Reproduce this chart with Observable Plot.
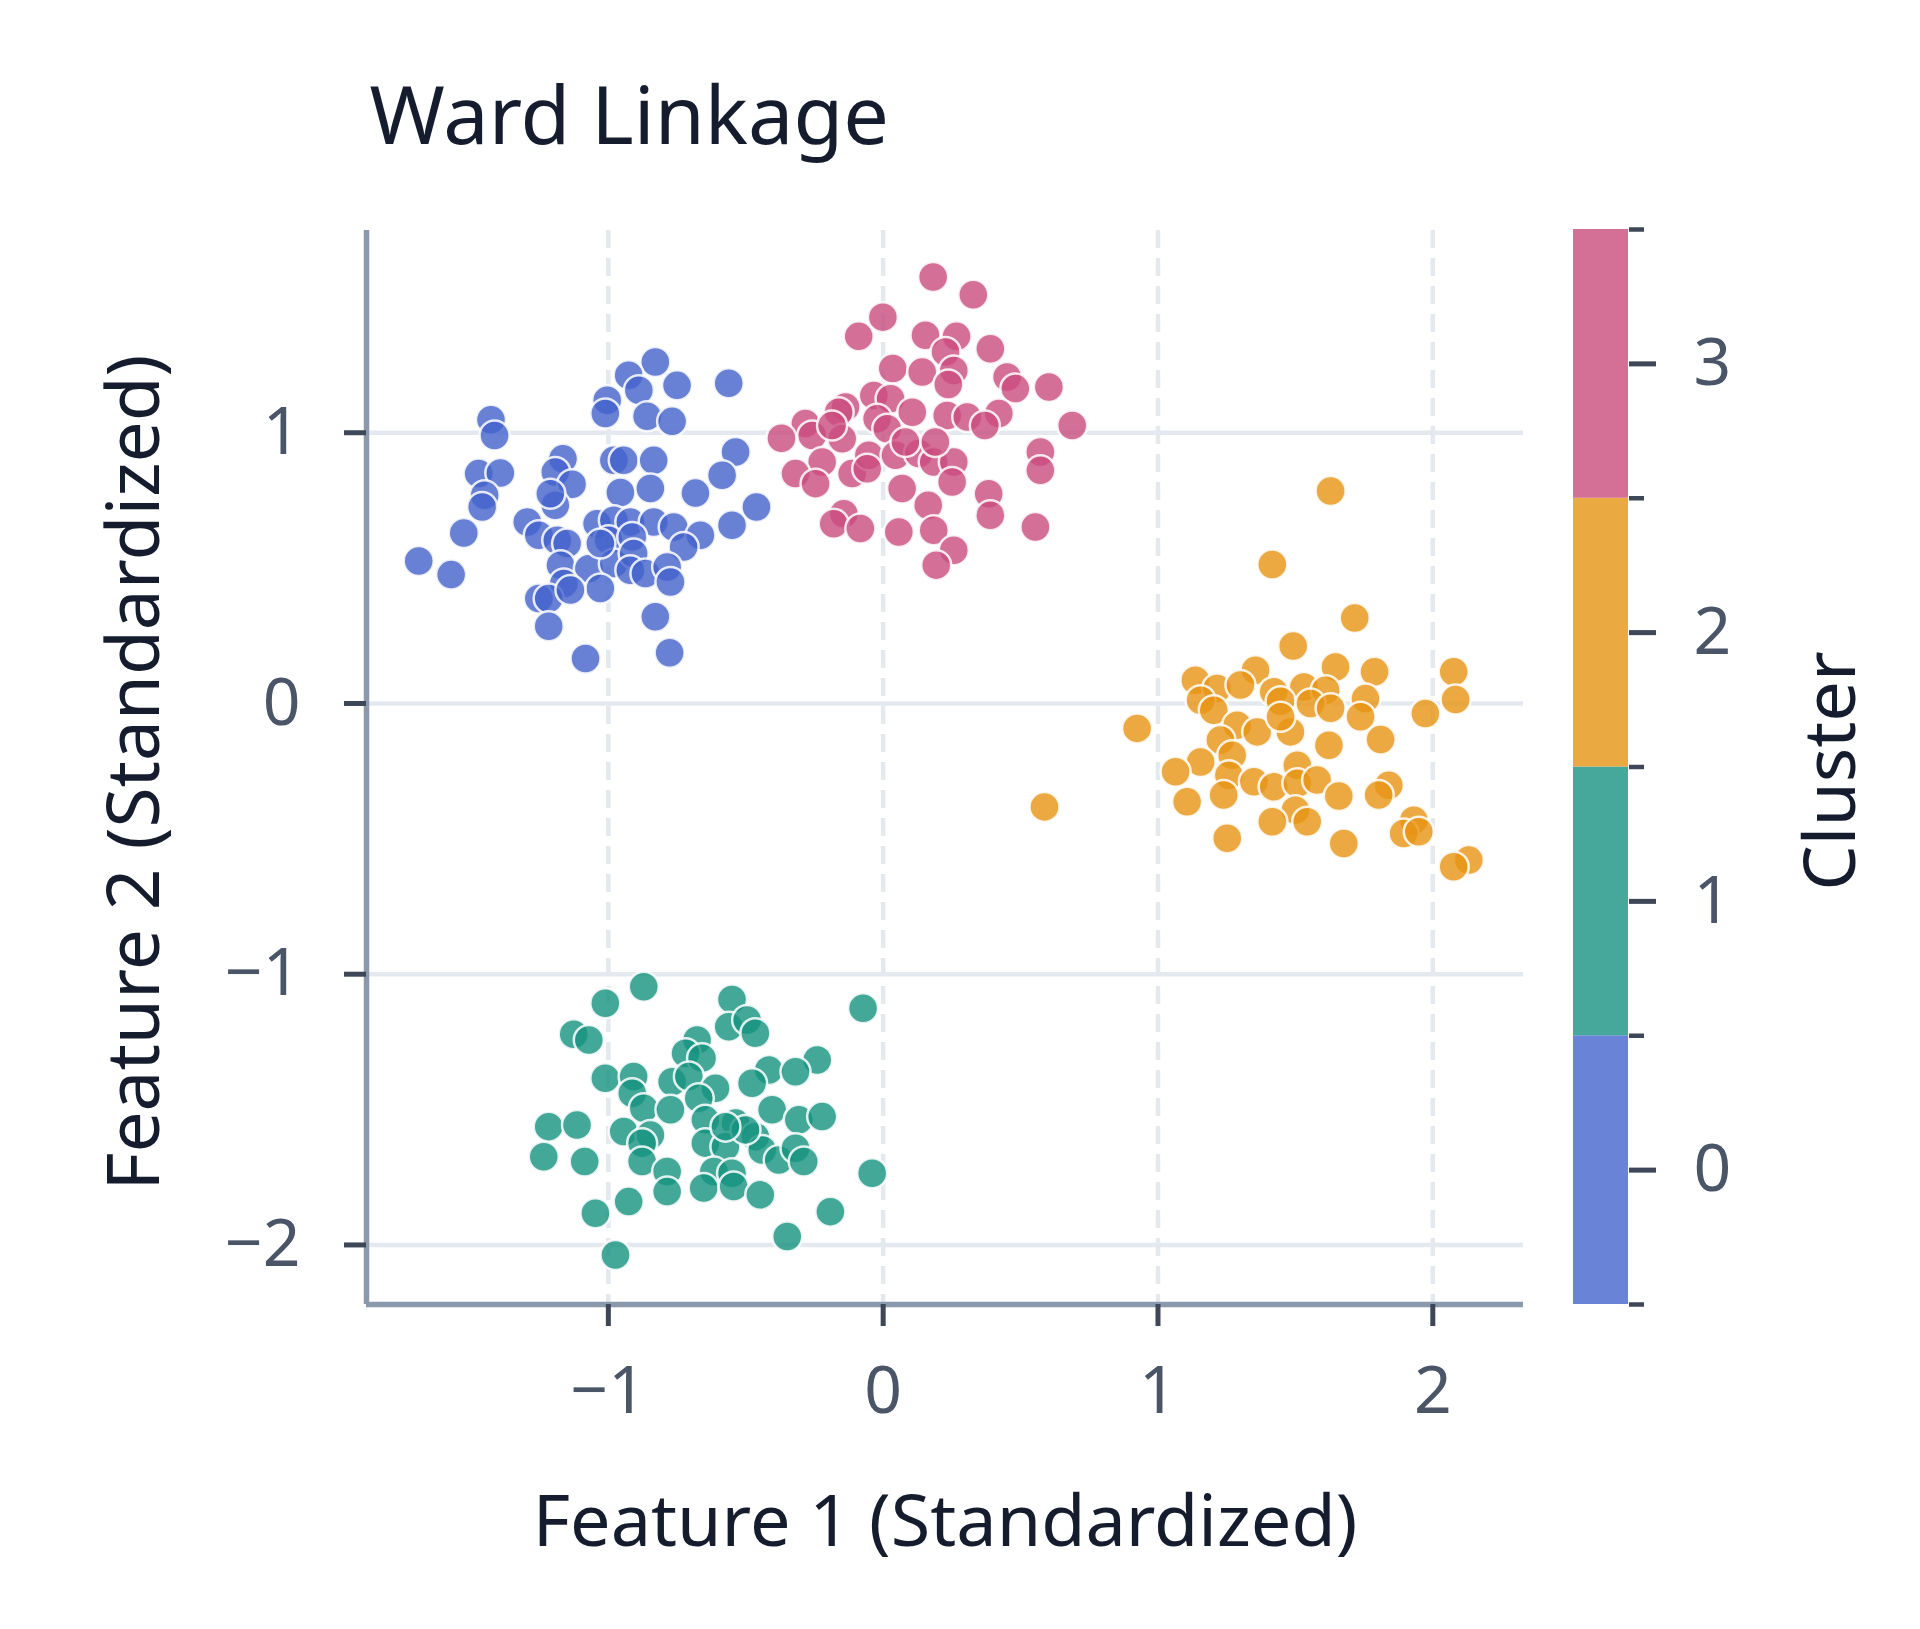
<!DOCTYPE html>
<html>
<head>
<meta charset="utf-8">
<script src="https://cdn.jsdelivr.net/npm/d3@7"></script>
<script src="https://cdn.jsdelivr.net/npm/@observablehq/plot@0.6"></script>
<style>
  html, body { margin: 0; padding: 0; background: #ffffff; }
  #chart { position: relative; width: 1920px; height: 1629px; overflow: hidden; }
  #chart > svg { position: absolute; }
</style>
</head>
<body>
<div id="chart"></div>
<script>
// ---------- data ----------
const clusterIds = [0, 1, 2, 3];
const clusterLabels = ["0", "1", "2", "3"];

const cluster0X = [-0.829,-0.926,-0.889,-0.750,-0.562,-1.004,-1.011,-0.859,-0.768,-1.427,-1.414,-0.537,-1.165,-0.980,-0.944,-0.835,-1.472,-1.393,-1.193,-1.132,-0.586,-0.683,-0.956,-0.847,-1.450,-1.459,-1.193,-1.211,-0.461,-1.526,-1.295,-1.041,-0.980,-0.920,-0.835,-0.762,-0.665,-0.550,-1.253,-1.186,-1.150,-0.999,-0.913,-0.726,-1.690,-1.572,-1.174,-1.071,-0.980,-0.908,-0.920,-0.865,-0.786,-0.774,-1.029,-1.162,-1.253,-1.217,-0.829,-1.217,-1.083,-0.777,-1.138,-1.029];
const cluster0Y = [1.261,1.212,1.157,1.175,1.183,1.120,1.071,1.061,1.042,1.048,0.990,0.929,0.904,0.898,0.898,0.898,0.849,0.851,0.855,0.810,0.843,0.777,0.779,0.794,0.769,0.726,0.732,0.775,0.726,0.630,0.670,0.664,0.677,0.670,0.670,0.652,0.621,0.658,0.621,0.603,0.591,0.603,0.615,0.578,0.526,0.476,0.511,0.498,0.517,0.554,0.492,0.480,0.504,0.449,0.425,0.443,0.388,0.388,0.320,0.285,0.166,0.187,0.419,0.591];

const cluster1X = [-0.871,-1.011,-0.550,-0.073,-1.126,-1.071,-0.562,-0.495,-0.465,-0.677,-0.719,-0.659,-0.240,-0.416,-0.319,-0.477,-1.011,-0.908,-0.913,-0.768,-0.707,-0.610,-0.871,-0.774,-0.671,-0.404,-0.307,-0.222,-1.217,-1.114,-0.944,-0.847,-0.877,-0.647,-0.537,-0.465,-0.647,-0.574,-0.440,-0.380,-0.319,-0.289,-1.235,-1.086,-0.877,-0.786,-0.786,-0.616,-0.550,-0.653,-0.544,-0.040,-0.447,-0.926,-1.047,-0.192,-0.349,-0.974,-0.501,-0.574];
const cluster1Y = [-1.046,-1.107,-1.093,-1.126,-1.222,-1.243,-1.194,-1.169,-1.218,-1.243,-1.292,-1.310,-1.317,-1.354,-1.360,-1.403,-1.384,-1.378,-1.440,-1.397,-1.378,-1.421,-1.495,-1.501,-1.458,-1.501,-1.538,-1.526,-1.563,-1.557,-1.581,-1.594,-1.624,-1.538,-1.550,-1.600,-1.624,-1.637,-1.649,-1.686,-1.643,-1.692,-1.674,-1.692,-1.692,-1.729,-1.803,-1.729,-1.735,-1.790,-1.784,-1.735,-1.815,-1.840,-1.883,-1.877,-1.969,-2.037,-1.575,-1.563];

const cluster2X = [1.628,1.416,1.716,1.492,1.355,1.646,1.788,2.076,1.136,1.215,1.300,1.421,1.531,1.610,1.755,2.083,1.973,0.924,1.155,1.203,1.446,1.555,1.628,1.737,1.288,1.361,1.482,1.227,1.622,1.810,1.270,1.155,1.064,1.258,1.349,1.421,1.507,1.507,1.579,1.658,1.840,1.803,1.106,1.239,0.587,1.500,1.543,1.416,1.252,1.676,1.931,1.894,1.949,2.131,2.076,1.446];
const cluster2Y = [0.785,0.513,0.316,0.212,0.123,0.135,0.117,0.117,0.086,0.055,0.068,0.043,0.061,0.049,0.018,0.015,-0.037,-0.092,0.012,-0.025,0.008,0.000,-0.018,-0.049,-0.080,-0.105,-0.105,-0.135,-0.154,-0.133,-0.191,-0.216,-0.252,-0.265,-0.289,-0.308,-0.228,-0.295,-0.283,-0.342,-0.302,-0.338,-0.363,-0.338,-0.382,-0.394,-0.437,-0.437,-0.498,-0.517,-0.431,-0.480,-0.474,-0.578,-0.603,-0.049];

const cluster3X = [0.182,0.328,-0.001,-0.089,0.154,0.267,0.390,0.227,0.035,0.142,0.257,0.237,0.451,0.481,0.603,-0.034,0.027,-0.137,-0.162,0.106,-0.283,-0.022,0.015,0.233,0.306,0.421,0.370,0.688,-0.370,-0.258,-0.149,-0.222,-0.319,-0.246,-0.113,-0.052,-0.058,0.045,0.130,0.184,0.257,0.251,0.069,0.572,0.572,0.384,0.390,-0.143,-0.180,-0.083,0.057,0.164,0.184,0.554,0.257,0.193,0.081,0.190,-0.186];
const cluster3Y = [1.575,1.510,1.427,1.356,1.360,1.356,1.310,1.298,1.237,1.224,1.230,1.178,1.206,1.163,1.169,1.138,1.126,1.095,1.076,1.076,1.034,1.052,1.015,1.064,1.058,1.071,1.027,1.027,0.980,0.990,0.978,0.892,0.849,0.812,0.849,0.917,0.867,0.917,0.923,0.892,0.892,0.818,0.794,0.929,0.861,0.775,0.695,0.701,0.664,0.646,0.633,0.732,0.640,0.652,0.566,0.511,0.966,0.966,1.027];

const xDomain = [-1.88, 2.33];
const yDomain = [-2.22, 1.747];
const xTicks = [-1, 0, 1, 2];
const yTicks = [-2, -1, 0, 1];
const clusterTicks = [0, 1, 2, 3];
const clusterEdges = [-0.5, 0.5, 1.5, 2.5, 3.5];

const titleText = "Ward Linkage";
const xTitle = "Feature 1 (Standardized)";
const yTitle = "Feature 2 (Standardized)";
const legendTitle = "Cluster";

// ---------- styles ----------
const markerColors = ["#4261ca", "#15927f", "#e79313", "#c94c7e"];
const barColors = ["#6984d6", "#45a89a", "#eba941", "#d47096"];
const FONT = "'Noto Sans', 'Open Sans', sans-serif";
const tickColor = "#3d4757";
const tickTextColor = "#4a5568";
const axisLineColor = "#8b99ad";
const gridColor = "#e4e8ef";
const titleColor = "#151c2e";
const fmtTick = d => (d < 0 ? "\u2212" : "") + Math.abs(d);

// ---------- build table ----------
const xs = [cluster0X, cluster1X, cluster2X, cluster3X];
const ys = [cluster0Y, cluster1Y, cluster2Y, cluster3Y];
const points = [];
clusterIds.forEach((c, i) => {
  xs[i].forEach((x, j) => points.push({x, y: ys[i][j], cluster: c}));
});

const W = 1920, H = 1629;
const mL = 366, mR = 397, mT = 230, mB = 325;

const main = Plot.plot({
  width: W,
  height: H,
  marginLeft: mL,
  marginRight: mR,
  marginTop: mT,
  marginBottom: mB,
  style: {fontFamily: FONT, background: "transparent", overflow: "visible"},
  x: {domain: xDomain, nice: false},
  y: {domain: yDomain, nice: false},
  color: {type: "ordinal", domain: clusterIds, range: markerColors},
  marks: [
    Plot.gridY(yTicks, {stroke: gridColor, strokeOpacity: 1, strokeWidth: 4.5}),
    Plot.gridX(xTicks, {stroke: gridColor, strokeOpacity: 1, strokeWidth: 4.5, strokeDasharray: "18,10"}),
    Plot.ruleX([xDomain[0]], {stroke: axisLineColor, strokeWidth: 5.5}),
    Plot.ruleY([yDomain[0]], {stroke: axisLineColor, strokeWidth: 5.5}),
    Plot.axisX(xTicks, {tickSize: 22, tickPadding: 40, stroke: tickColor, strokeWidth: 5, fill: tickTextColor, fontSize: 66, tickFormat: fmtTick, label: null}),
    Plot.axisY(yTicks, {tickSize: 22, tickPadding: 44, stroke: tickColor, strokeWidth: 5, fill: tickTextColor, fontSize: 66, tickFormat: fmtTick, label: null}),
    Plot.dot(points, {x: "x", y: "y", fill: "cluster", r: 15, fillOpacity: 0.8, stroke: "white", strokeWidth: 2.5, strokeOpacity: 0.85}),
    Plot.text([titleText], {frameAnchor: "top-left", textAnchor: "start", lineAnchor: "bottom", dx: 3, dy: -87, fontSize: 81, fill: titleColor}),
    Plot.text([xTitle], {frameAnchor: "bottom", textAnchor: "middle", lineAnchor: "bottom", dy: 241, fontSize: 72, fill: titleColor}),
    Plot.text([yTitle], {frameAnchor: "left", textAnchor: "middle", lineAnchor: "middle", rotate: -90, dx: -231, dy: 5, fontSize: 73, fill: titleColor})
  ]
});
main.style.left = "0px";
main.style.top = "0px";
document.getElementById("chart").appendChild(main);

// ---------- colorbar ----------
const cbLeft = 1573, cbTop = 229, cbBottom = 1304, cbWidth = 55;
const cbPad = 12;
const cbW = W - cbLeft;
const cbar = Plot.plot({
  width: cbW,
  height: (cbBottom - cbTop) + 2 * cbPad,
  marginLeft: 0,
  marginRight: cbW - cbWidth,
  marginTop: cbPad,
  marginBottom: cbPad,
  style: {fontFamily: FONT, background: "transparent", overflow: "visible"},
  y: {domain: [clusterEdges[0], clusterEdges[clusterEdges.length - 1]], nice: false},
  color: {type: "ordinal", domain: clusterIds, range: barColors},
  marks: [
    Plot.rectY(clusterIds, {y1: d => d - 0.5, y2: d => d + 0.5, fill: d => d}),
    Plot.axisY(clusterEdges, {anchor: "right", tickSize: 15, stroke: tickColor, strokeWidth: 4.5, tickFormat: () => "", label: null}),
    Plot.axisY(clusterTicks, {anchor: "right", tickSize: 27, tickPadding: 38, stroke: tickColor, strokeWidth: 5, fill: tickTextColor, fontSize: 66, tickFormat: (d) => clusterLabels[d], label: null}),
    Plot.text([legendTitle], {frameAnchor: "right", textAnchor: "middle", rotate: -90, lineAnchor: "middle", dx: 203, dy: 4, fontSize: 72, fill: titleColor})
  ]
});
cbar.style.left = cbLeft + "px";
cbar.style.top = (cbTop - cbPad) + "px";
document.getElementById("chart").appendChild(cbar);
</script>
</body>
</html>
